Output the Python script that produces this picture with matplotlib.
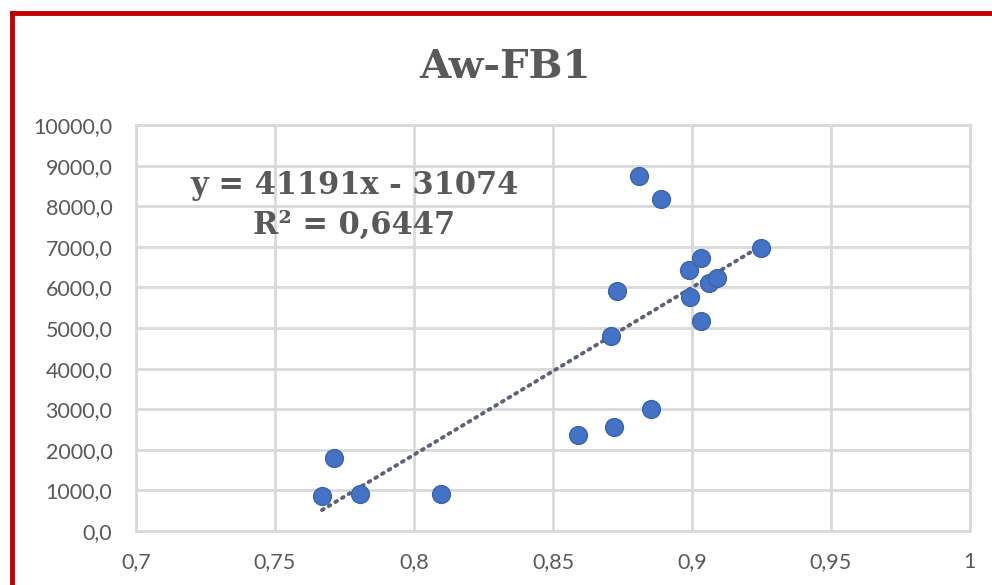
import numpy as np
import matplotlib.pyplot as plt
from matplotlib.lines import Line2D

# measured samples
aw = [0.7669, 0.7712, 0.7806, 0.8097, 0.8590, 0.8719, 0.8853, 0.8709, 0.8730,
      0.8810, 0.8888, 0.8993, 0.8989, 0.9032, 0.9032, 0.9061, 0.9090, 0.9248]
fb1 = [862, 1798, 911, 911, 2365, 2562, 3005, 4803, 5911,
       8744, 8177, 5764, 6429, 6724, 5172, 6108, 6232, 6970]

# linear trend as reported on the chart
slope = 41191
intercept = -31074
r2 = 0.6447

x_ticks = [0.7, 0.75, 0.8, 0.85, 0.9, 0.95, 1.0]
x_labels = ['0,7', '0,75', '0,8', '0,85', '0,9', '0,95', '1']
y_ticks = list(range(0, 10001, 1000))
y_labels = [f'{v},0' for v in y_ticks]

grey = '#595959'
grid = '#d9d9d9'

fig = plt.figure(figsize=(9.92, 5.85), dpi=100)
ax = fig.add_axes([0.1371, 0.0923, 0.8407, 0.694])

ax.scatter(aw, fb1, s=165, color='#4472c4', edgecolors='#3a64ad', linewidths=1, zorder=3)

xs = np.array([min(aw), max(aw)])
ax.plot(xs, slope * xs + intercept, linestyle=(0, (0.5, 1.5)), dash_capstyle='round',
        color='#5b6375', linewidth=2.8, zorder=2)

ax.set_xlim(0.7, 1.0)
ax.set_ylim(0, 10000)
ax.set_xticks(x_ticks)
ax.set_xticklabels(x_labels)
ax.set_yticks(y_ticks)
ax.set_yticklabels(y_labels)
ax.tick_params(length=0, colors=grey, labelsize=15.5)
ax.tick_params(axis='x', pad=15)
ax.tick_params(axis='y', pad=17)
for lab in ax.get_xticklabels() + ax.get_yticklabels():
    lab.set_family('Lato')

ax.grid(True, color=grid, linewidth=2)
ax.set_axisbelow(True)
for s in ax.spines.values():
    s.set_color(grid)
    s.set_linewidth(2)

fig.text(0.509, 0.885, 'Aw-FB1', ha='center', va='center', fontsize=29,
         fontweight='bold', family='DejaVu Serif', color=grey)

ax.text(0.2615, 0.852, f'y = {slope}x - {abs(intercept)}', transform=ax.transAxes,
        ha='center', va='center', fontsize=22, fontweight='bold',
        family='DejaVu Serif', color=grey)
ax.text(0.2615, 0.753, 'R² = ' + f'{r2}'.replace('.', ','), transform=ax.transAxes,
        ha='center', va='center', fontsize=22, fontweight='bold',
        family='DejaVu Serif', color=grey)

# red frame along top and left edges
red = '#c00000'
fig.add_artist(Line2D([0.012, 1.0], [0.978, 0.978], transform=fig.transFigure,
                      color=red, linewidth=3.5))
fig.add_artist(Line2D([0.012, 0.012], [0.0, 0.978], transform=fig.transFigure,
                      color=red, linewidth=3.5))

fig.savefig('out.png', dpi=100)
